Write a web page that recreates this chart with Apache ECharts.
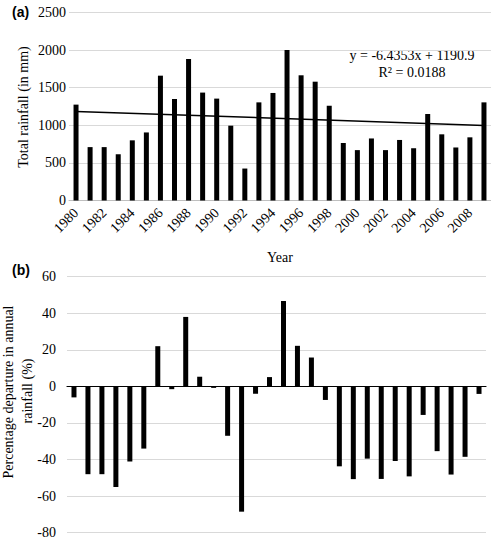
<!DOCTYPE html>
<html><head><meta charset="utf-8">
<script src="https://cdn.jsdelivr.net/npm/echarts@6/dist/echarts.min.js"></script>
<style>html,body{margin:0;padding:0;background:#fff}#c{width:491px;height:542px}</style>
</head><body><div id="c"></div>
<script>
const years = ['1980','1981','1982','1983','1984','1985','1986','1987','1988','1989','1990','1991','1992','1993','1994','1995','1996','1997','1998','1999','2000','2001','2002','2003','2004','2005','2006','2007','2008','2009'];
const rainfall = [1275,710,710,615,800,905,1660,1350,1880,1435,1355,995,425,1305,1430,2000,1665,1580,1260,765,670,825,670,805,695,1150,880,705,840,1305];
const departure = [-6,-48,-48,-55,-41,-34,22,-1.5,38,5.3,-0.8,-27,-68.5,-4,5.1,46.7,22.2,15.8,-7.4,-43.7,-50.7,-39.5,-50.6,-40.8,-49.2,-15.6,-35.4,-48.2,-38.5,-4.1];
const trendEnds = [1184.5, 997.8];
const topTicks = [0, 2500, 500];
const bottomTicks = [-80, 60, 20];
const equation = ['y = -6.4353x + 1190.9', 'R² = 0.0188'];

const trendData = years.map((y, i) => i === 0 ? trendEnds[0] : (i === years.length - 1 ? trendEnds[1] : null));
const serifName = '"Liberation Serif", "Times New Roman", serif';
const serifFont = '14px "Liberation Serif", serif';
const gridLine = {show: true, lineStyle: {color: '#d9d9d9', width: 1}};

const chart = echarts.init(document.getElementById('c'), null, {renderer: 'svg'});
chart.setOption({
  animation: false,
  textStyle: {fontFamily: serifName, fontSize: 14, color: '#000'},
  grid: [
    {left: 69, right: 0, top: 12.5, bottom: 341.5},
    {left: 67, right: 5, top: 276.7, bottom: 9.3}
  ],
  xAxis: [
    {gridIndex: 0, type: 'category', data: years, boundaryGap: true,
     axisLine: {lineStyle: {color: '#bfbfbf'}}, axisTick: {show: false},
     axisLabel: {rotate: 45, interval: 1, fontFamily: serifName, fontSize: 14, color: '#000', margin: 10}},
    {gridIndex: 1, type: 'category', data: years, boundaryGap: true,
     axisLine: {onZero: true, lineStyle: {color: '#000', width: 1.2}}, axisTick: {show: false},
     axisLabel: {show: false}}
  ],
  yAxis: [
    {gridIndex: 0, type: 'value', min: topTicks[0], max: topTicks[1], interval: topTicks[2],
     axisLine: {show: false}, axisTick: {show: false}, splitLine: gridLine,
     axisLabel: {fontFamily: serifName, fontSize: 14, color: '#000', margin: 3, formatter: v => String(v)}},
    {gridIndex: 1, type: 'value', min: bottomTicks[0], max: bottomTicks[1], interval: bottomTicks[2],
     axisLine: {show: false}, axisTick: {show: false}, splitLine: gridLine,
     axisLabel: {fontFamily: serifName, fontSize: 14, color: '#000', margin: 11, formatter: v => String(v)}}
  ],
  series: [
    {type: 'bar', xAxisIndex: 0, yAxisIndex: 0, data: rainfall, barWidth: 5, itemStyle: {color: '#000'}},
    {type: 'line', xAxisIndex: 0, yAxisIndex: 0, data: trendData, connectNulls: true, symbol: 'none',
     lineStyle: {color: '#000', width: 1.5}, z: 5},
    {type: 'bar', xAxisIndex: 1, yAxisIndex: 1, data: departure, barWidth: 5, itemStyle: {color: '#000'}}
  ],
  graphic: [
    {type: 'text', left: 12, top: 5, style: {text: '(a)', font: 'bold 14px "Liberation Sans", Arial, sans-serif', fill: '#000'}},
    {type: 'text', left: 12, top: 263, style: {text: '(b)', font: 'bold 14px "Liberation Sans", Arial, sans-serif', fill: '#000'}},
    {type: 'text', x: 412, y: 55, style: {text: equation[0], font: serifFont, fill: '#000', align: 'center', verticalAlign: 'middle'}},
    {type: 'text', x: 412, y: 72, style: {text: equation[1], font: serifFont, fill: '#000', align: 'center', verticalAlign: 'middle'}},
    {type: 'text', x: 280, y: 257, style: {text: 'Year', font: serifFont, fill: '#000', align: 'center', verticalAlign: 'middle'}},
    {type: 'text', x: 23, y: 107, rotation: Math.PI / 2, style: {text: 'Total rainfall (in mm)', font: serifFont, fill: '#000', align: 'center', verticalAlign: 'middle'}},
    {type: 'text', x: 8, y: 392, rotation: Math.PI / 2, style: {text: 'Percentage departure in annual', font: serifFont, fill: '#000', align: 'center', verticalAlign: 'middle'}},
    {type: 'text', x: 27, y: 391, rotation: Math.PI / 2, style: {text: 'rainfall (%)', font: serifFont, fill: '#000', align: 'center', verticalAlign: 'middle'}}
  ]
});
</script></body></html>
